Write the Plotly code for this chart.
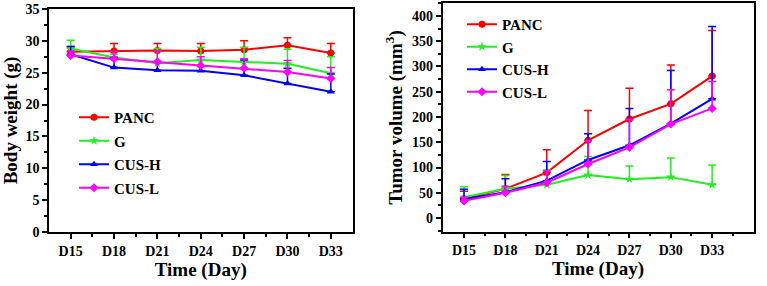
import plotly.graph_objects as go

days = ["D15", "D18", "D21", "D24", "D27", "D30", "D33"]
groups = ["PANC", "G", "CUS-H", "CUS-L"]
colors = ["#FF0000", "#22EE22", "#0000FF", "#FF00FF"]
symbols = ["circle", "star", "triangle-up", "diamond"]

# Body weight (g)
bw_panc = [28.3, 28.4, 28.5, 28.4, 28.6, 29.3, 28.1]
bw_g = [28.8, 27.4, 26.5, 27.0, 26.7, 26.4, 24.9]
bw_cush = [27.9, 25.8, 25.4, 25.3, 24.6, 23.3, 22.0]
bw_cusl = [27.7, 27.2, 26.7, 26.1, 25.7, 25.1, 24.1]
bw_err_panc = [0.8, 1.2, 1.1, 1.2, 1.4, 1.2, 1.5]
bw_err_g = [1.3, 0.5, 2.3, 2.0, 2.3, 2.3, 2.6]
bw_err_cush = [1.2, 1.6, 1.4, 0.8, 2.4, 2.4, 2.8]
bw_err_cusl = [0.7, 1.1, 1.7, 1.4, 1.5, 1.8, 1.7]

# Tumor volume (mm3)
tv_panc = [38, 58, 90, 154, 196, 226, 281]
tv_g = [41, 58, 66, 85, 77, 81, 66]
tv_cush = [37, 51, 74, 115, 144, 187, 236]
tv_cusl = [34, 50, 70, 107, 140, 186, 217]
tv_err_panc = [15, 28, 45, 59, 61, 77, 90]
tv_err_g = [21, 26, 29, 37, 26, 38, 39]
tv_err_cush = [20, 27, 38, 52, 73, 105, 143]
tv_err_cusl = [7, 13, 23, 46, 55, 68, 53]

bw = [bw_panc, bw_g, bw_cush, bw_cusl]
bw_err = [bw_err_panc, bw_err_g, bw_err_cush, bw_err_cusl]
tv = [tv_panc, tv_g, tv_cush, tv_cusl]
tv_err = [tv_err_panc, tv_err_g, tv_err_cush, tv_err_cusl]

xi = list(range(len(days)))
FONT = "Liberation Serif, Times New Roman, serif"

fig = go.Figure()
for k, name in enumerate(groups):
    fig.add_trace(go.Scatter(
        x=xi, y=bw[k], name=name, mode="lines+markers",
        line=dict(color=colors[k], width=2),
        marker=dict(symbol=symbols[k], size=7, color=colors[k]),
        error_y=dict(type="data", symmetric=False, array=bw_err[k],
                     arrayminus=[0] * len(days), color=colors[k],
                     thickness=1.5, width=4),
        xaxis="x", yaxis="y", legend="legend", legendgroup="a" + name,
    ))
for k, name in enumerate(groups):
    fig.add_trace(go.Scatter(
        x=xi, y=tv[k], name=name, mode="lines+markers",
        line=dict(color=colors[k], width=2),
        marker=dict(symbol=symbols[k], size=7, color=colors[k]),
        error_y=dict(type="data", symmetric=False, array=tv_err[k],
                     arrayminus=[0] * len(days), color=colors[k],
                     thickness=1.5, width=4),
        xaxis="x2", yaxis="y2", legend="legend2",
    ))

W, H = 767, 286
def px(x):
    return x / W
def py(y):
    return 1 - y / H

axis_common = dict(
    showline=True, linecolor="black", linewidth=1.5, mirror=True,
    ticks="outside", ticklen=5, tickwidth=1.5, tickcolor="black",
    showgrid=False, zeroline=False, automargin=False,
    tickfont=dict(family=FONT, size=14, color="black", weight="bold"),
)
title_font = dict(family=FONT, size=19, color="black", weight="bold")
minor_common = dict(ticks="outside", ticklen=3, tickwidth=1.5, tickcolor="black", showgrid=False)

fig.update_layout(
    width=W, height=H,
    margin=dict(l=0, r=0, t=0, b=0, autoexpand=False),
    paper_bgcolor="white", plot_bgcolor="white",
    font=dict(family=FONT, color="black"),
    xaxis=dict(domain=[px(49), px(352.5)], range=[-0.5, 6.5],
               tickmode="array", tickvals=xi, ticktext=days,
               minor=dict(tickmode="array", tickvals=[k + 0.5 for k in range(6)], **minor_common),
               title=dict(text="Time (Day)", font=title_font, standoff=1),
               anchor="y", **axis_common),
    yaxis=dict(domain=[py(232), py(9)], range=[0, 35], dtick=5,
               minor=dict(dtick=2.5, **minor_common),
               title=dict(text="Body weight (g)", font=title_font, standoff=6),
               anchor="x", **axis_common),
    xaxis2=dict(domain=[px(442.5), px(753.5)], range=[-0.52, 7.0],
                tickmode="array", tickvals=xi, ticktext=days,
                minor=dict(tickmode="array", tickvals=[k + 0.5 for k in range(7)], **minor_common),
                title=dict(text="Time (Day)", font=title_font, standoff=1),
                anchor="y2", **axis_common),
    yaxis2=dict(domain=[py(231.7), py(3.3)], range=[-27, 425], dtick=50,
                minor=dict(dtick=25, **minor_common),
                title=dict(text="Tumor volume (mm<sup>3</sup>)", font=title_font, standoff=4),
                anchor="x2", **axis_common),
    legend=dict(x=px(74), y=py(101), xanchor="left", yanchor="top",
                bgcolor="rgba(0,0,0,0)", tracegroupgap=1,
                font=dict(family=FONT, size=15, color="black", weight="bold")),
    legend2=dict(x=px(462), y=py(8), xanchor="left", yanchor="top",
                 bgcolor="rgba(0,0,0,0)", tracegroupgap=0,
                 font=dict(family=FONT, size=15, color="black", weight="bold")),
)

fig.write_html("out.html", config={"displayModeBar": False},
               post_script="document.body.style.margin='0';")
